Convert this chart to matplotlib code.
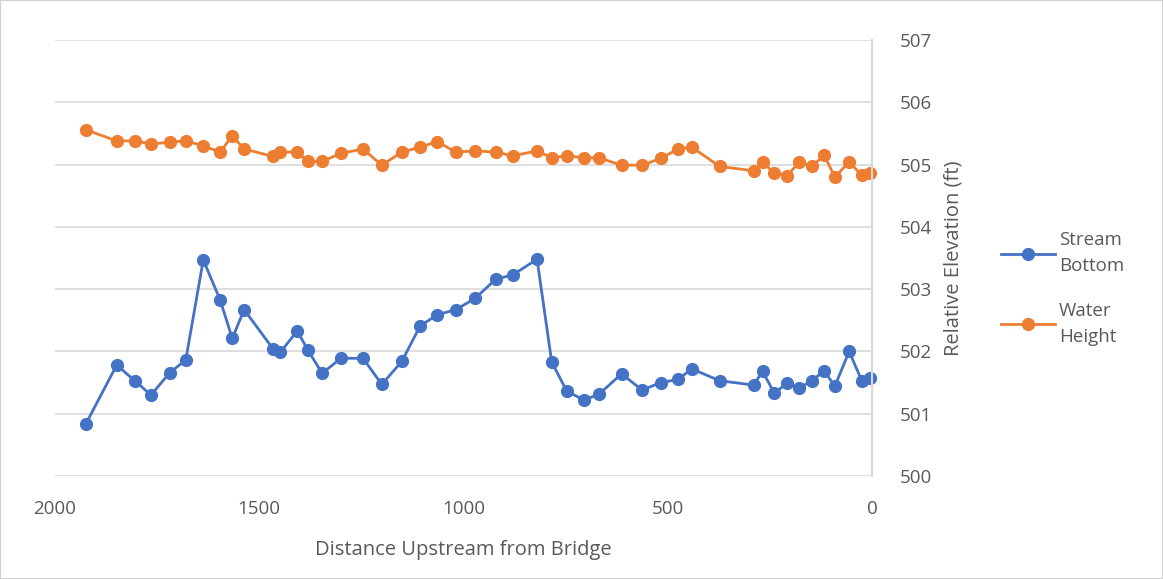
import matplotlib
matplotlib.use("Agg")
from matplotlib import pyplot as plt
from matplotlib.patches import Rectangle

# distance upstream from bridge (ft)
distance = [1925, 1849, 1803, 1765, 1719, 1680, 1637, 1596, 1566, 1537, 1466, 1448,
            1407, 1381, 1346, 1300, 1246, 1200, 1151, 1106, 1064, 1019, 972, 921,
            879, 820, 784, 747, 705, 669, 613, 563, 517, 475, 441, 373, 290, 268,
            239, 208, 178, 147, 117, 91, 56, 25, 5]

stream_bottom = [500.83, 501.78, 501.52, 501.30, 501.66, 501.86, 503.47, 502.83, 502.21,
                 502.67, 502.04, 501.99, 502.33, 502.02, 501.65, 501.89, 501.89, 501.47,
                 501.84, 502.41, 502.59, 502.67, 502.85, 503.16, 503.23, 503.48, 501.83,
                 501.36, 501.22, 501.31, 501.64, 501.38, 501.50, 501.55, 501.72, 501.53,
                 501.46, 501.68, 501.33, 501.49, 501.41, 501.53, 501.69, 501.44, 502.00,
                 501.53, 501.58]

water_height = [505.56, 505.38, 505.38, 505.33, 505.36, 505.38, 505.30, 505.20, 505.46,
                505.25, 505.13, 505.20, 505.20, 505.05, 505.05, 505.18, 505.25, 504.99,
                505.20, 505.28, 505.37, 505.20, 505.22, 505.20, 505.14, 505.22, 505.11,
                505.14, 505.11, 505.11, 504.99, 504.99, 505.10, 505.25, 505.28, 504.97,
                504.90, 505.04, 504.86, 504.82, 505.04, 504.97, 505.15, 504.80, 505.04,
                504.83, 504.86]

x_ticks = [2000, 1500, 1000, 500, 0]
y_ticks = [500, 501, 502, 503, 504, 505, 506, 507]

plt.rcParams['font.family'] = ['Open Sans', 'DejaVu Sans']
text_color = '#595959'
grid_color = '#d9d9d9'

fig = plt.figure(figsize=(11.63, 5.79), dpi=100)
fig.patches.append(Rectangle((0, 0), 1, 1, transform=fig.transFigure,
                             fill=False, edgecolor='#d0d0d0', linewidth=1.5))

W, H = 1163, 579
ax = fig.add_axes([55 / W, 1 - 476 / H, (872 - 55) / W, (476 - 40) / H])

ax.plot(distance, stream_bottom, color='#4472C4', marker='o', markersize=8.5,
        linewidth=2, label='Stream\nBottom', clip_on=False)
ax.plot(distance, water_height, color='#ED7D31', marker='o', markersize=8.5,
        linewidth=2, label='Water\nHeight', clip_on=False)

ax.set_xlim(2000, 0)
ax.set_ylim(500, 507)
ax.set_xticks(x_ticks)
ax.set_yticks(y_ticks)
ax.yaxis.tick_right()
ax.yaxis.set_label_position('right')

ax.grid(axis='y', color=grid_color, linewidth=1.2)
ax.set_axisbelow(True)
for side in ['top', 'left', 'bottom']:
    ax.spines[side].set_visible(False)
ax.spines['right'].set_color(grid_color)
ax.spines['right'].set_linewidth(1.5)

ax.tick_params(axis='both', length=0, labelsize=13.5, colors=text_color)
ax.tick_params(axis='y', pad=20)
ax.tick_params(axis='x', pad=17)

ax.set_xlabel('Distance Upstream from Bridge', fontsize=14.5, color=text_color, labelpad=16)
ax.set_ylabel('Relative Elevation (ft)', fontsize=14.5, color=text_color, labelpad=8)

leg = ax.legend(loc='center left', bbox_to_anchor=((984 - 55) / 817, 0.43),
                frameon=False, fontsize=13.5, labelspacing=1.4, handlelength=2.9,
                handletextpad=0.2)
for t in leg.get_texts():
    t.set_color(text_color)
    t.set_linespacing(1.6)

fig.savefig('out.png', dpi=100)
